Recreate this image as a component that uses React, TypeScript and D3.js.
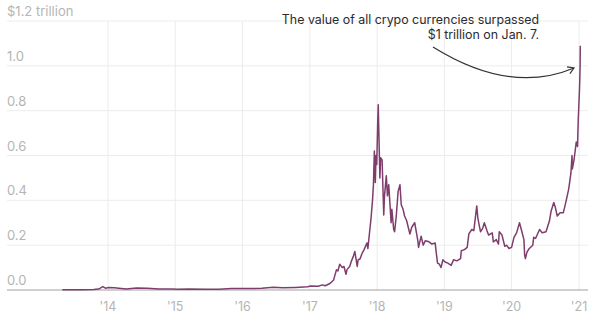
import React from "react";
import * as d3 from "d3";

const yTicks = [0, 0.2, 0.4, 0.6, 0.8, 1.0, 1.2];
const yTickLabels = ["0.0", "0.2", "0.4", "0.6", "0.8", "1.0", "$1.2 trillion"];
const xTickYears = [2014, 2015, 2016, 2017, 2018, 2019, 2020, 2021];
const xTickLabels = ["'14", "'15", "'16", "'17", "'18", "'19", "'20", "'21"];

const dates = [
  "2013-04-28","2013-06-15","2013-08-15","2013-10-15","2013-11-10","2013-11-20","2013-12-04","2013-12-18",
  "2014-01-05","2014-02-05","2014-03-01","2014-04-10","2014-06-05","2014-08-01","2014-10-05","2014-12-15",
  "2015-01-14","2015-03-15","2015-06-15","2015-08-25","2015-11-04","2015-12-15",
  "2016-02-15","2016-04-15","2016-06-17","2016-08-05","2016-10-15","2016-12-20",
  "2017-01-05","2017-02-15","2017-03-10","2017-03-25","2017-04-20","2017-05-10","2017-05-25","2017-06-02",
  "2017-06-12","2017-06-26","2017-07-05","2017-07-16","2017-07-22","2017-08-05","2017-08-15","2017-08-25",
  "2017-09-02","2017-09-15","2017-09-20","2017-09-30","2017-10-12","2017-10-21","2017-11-07","2017-11-12",
  "2017-11-20","2017-11-29","2017-12-07","2017-12-12","2017-12-17","2017-12-22","2017-12-26","2017-12-30",
  "2018-01-04","2018-01-07","2018-01-10","2018-01-16","2018-01-20","2018-01-28","2018-02-06","2018-02-10",
  "2018-02-20","2018-02-26","2018-03-05","2018-03-18","2018-03-22","2018-04-01","2018-04-06","2018-04-15",
  "2018-04-25","2018-05-05","2018-05-12","2018-05-22","2018-05-30","2018-06-10","2018-06-28","2018-07-08",
  "2018-07-24","2018-08-10","2018-08-14","2018-08-28","2018-09-08","2018-09-20","2018-10-10","2018-10-25",
  "2018-11-12","2018-11-19","2018-11-25","2018-12-05","2018-12-14","2018-12-24",
  "2019-01-05","2019-01-20","2019-02-07","2019-02-20","2019-03-10","2019-03-30","2019-04-03","2019-04-20",
  "2019-05-05","2019-05-14","2019-05-30","2019-06-10","2019-06-26","2019-07-02","2019-07-16","2019-07-28",
  "2019-08-06","2019-08-20","2019-08-29","2019-09-18","2019-09-24","2019-10-10","2019-10-22","2019-10-26",
  "2019-11-10","2019-11-25","2019-12-05","2019-12-18",
  "2020-01-01","2020-01-14","2020-01-28","2020-02-13","2020-02-26","2020-03-08","2020-03-12","2020-03-16",
  "2020-03-25","2020-04-06","2020-04-25","2020-04-30","2020-05-10","2020-06-01","2020-06-15","2020-07-06",
  "2020-07-25","2020-08-02","2020-08-17","2020-08-25","2020-09-05","2020-09-20","2020-10-08","2020-10-21",
  "2020-11-06","2020-11-18","2020-11-24","2020-11-26","2020-12-05","2020-12-17","2020-12-24","2020-12-28",
  "2021-01-03","2021-01-05","2021-01-07","2021-01-08"
];

const marketCap = [
  0.0016,0.0012,0.0013,0.0021,0.004,0.008,0.015,0.008,
  0.011,0.010,0.008,0.005,0.0085,0.0075,0.0045,0.0045,
  0.003,0.0041,0.0037,0.0035,0.0065,0.0068,
  0.0068,0.0075,0.0125,0.0095,0.0115,0.0145,
  0.018,0.017,0.023,0.019,0.029,0.045,0.090,0.085,
  0.115,0.100,0.105,0.070,0.092,0.105,0.130,0.150,
  0.172,0.105,0.135,0.138,0.165,0.178,0.210,0.185,
  0.250,0.320,0.400,0.470,0.620,0.480,0.600,0.560,
  0.740,0.826,0.720,0.500,0.590,0.580,0.335,0.420,
  0.510,0.420,0.470,0.300,0.360,0.270,0.260,0.330,
  0.440,0.470,0.380,0.360,0.330,0.310,0.250,0.280,
  0.300,0.220,0.190,0.240,0.200,0.220,0.215,0.205,
  0.210,0.160,0.120,0.115,0.100,0.135,
  0.125,0.120,0.110,0.135,0.130,0.140,0.175,0.180,
  0.190,0.250,0.270,0.265,0.375,0.320,0.260,0.275,
  0.300,0.265,0.245,0.255,0.215,0.225,0.205,0.260,
  0.245,0.195,0.200,0.185,
  0.190,0.235,0.255,0.300,0.260,0.225,0.155,0.140,
  0.170,0.185,0.200,0.235,0.230,0.270,0.255,0.260,
  0.310,0.350,0.390,0.370,0.330,0.345,0.345,0.390,
  0.450,0.520,0.600,0.540,0.580,0.660,0.640,0.760,
  0.880,0.930,1.000,1.090
];

const annotationLines = [
  "The value of all crypo currencies surpassed",
  "$1 trillion on Jan. 7.",
];

const W = 600;
const H = 324;
const FONT = "Inter, 'Noto Sans', sans-serif";

export default function App() {
  const parse = d3.utcParse("%Y-%m-%d");
  const data = dates.map((d, i) => ({ date: parse(d) as Date, value: marketCap[i] }));

  const x = d3
    .scaleUtc()
    .domain([new Date(Date.UTC(2014, 0, 1)), new Date(Date.UTC(2021, 0, 1))])
    .range([108, 579]);
  const y = d3.scaleLinear().domain([0, 1.2]).range([290, 21]);

  const line = d3
    .line<{ date: Date; value: number }>()
    .x((d) => x(d.date))
    .y((d) => y(d.value))
    .curve(d3.curveLinear);

  const left = 7;
  const right = 588;

  // arrow
  const p0 = [433, 47];
  const c = [510, 95];
  const p1 = [574, 68];
  const ang = Math.atan2(p1[1] - c[1], p1[0] - c[0]);
  const ah = 7;
  const a1 = [p1[0] - ah * Math.cos(ang - 0.55), p1[1] - ah * Math.sin(ang - 0.55)];
  const a2 = [p1[0] - ah * Math.cos(ang + 0.55), p1[1] - ah * Math.sin(ang + 0.55)];

  return (
    <svg
      width={W}
      height={H}
      style={{ position: "absolute", left: 0, top: 0, background: "#fff" }}
      fontFamily={FONT}
    >
      {/* horizontal grid */}
      {yTicks.map((t) =>
        t === 0 ? null : (
          <line key={"h" + t} x1={left} x2={right} y1={y(t)} y2={y(t)} stroke="#ececec" strokeWidth={1} />
        )
      )}
      {/* vertical grid */}
      {xTickYears.map((yr) => {
        const xx = x(new Date(Date.UTC(yr, 0, 1)));
        return <line key={"v" + yr} x1={xx} x2={xx} y1={y(1.2)} y2={y(0)} stroke="#ececec" strokeWidth={1} />;
      })}
      {/* y labels */}
      {yTicks.map((t, i) => (
        <text key={"yl" + t} x={left} y={y(t) - 5} fontSize={13} fill="#b5b5b5">
          {yTickLabels[i]}
        </text>
      ))}
      {/* x labels */}
      {xTickYears.map((yr, i) => (
        <text
          key={"xl" + yr}
          x={x(new Date(Date.UTC(yr, 0, 1)))}
          y={311}
          fontSize={12.5}
          fill="#b5b5b5"
          textAnchor="middle"
        >
          {xTickLabels[i]}
        </text>
      ))}
      {/* baseline */}
      <line x1={left} x2={right} y1={y(0)} y2={y(0)} stroke="#a0a0a0" strokeWidth={1} />
      {/* data line */}
      <path d={line(data) || ""} fill="none" stroke="#7e3d6c" strokeWidth={1.5} strokeLinejoin="round" />
      {/* annotation */}
      {annotationLines.map((s, i) => (
        <text key={"an" + i} x={539} y={24 + i * 15} fontSize={12.4} fill="#2b2b2b" textAnchor="end">
          {s}
        </text>
      ))}
      <path
        d={`M${p0[0]},${p0[1]} Q${c[0]},${c[1]} ${p1[0]},${p1[1]}`}
        fill="none"
        stroke="#333"
        strokeWidth={1.2}
      />
      <path
        d={`M${a1[0]},${a1[1]} L${p1[0]},${p1[1]} L${a2[0]},${a2[1]}`}
        fill="none"
        stroke="#333"
        strokeWidth={1.2}
      />
    </svg>
  );
}
